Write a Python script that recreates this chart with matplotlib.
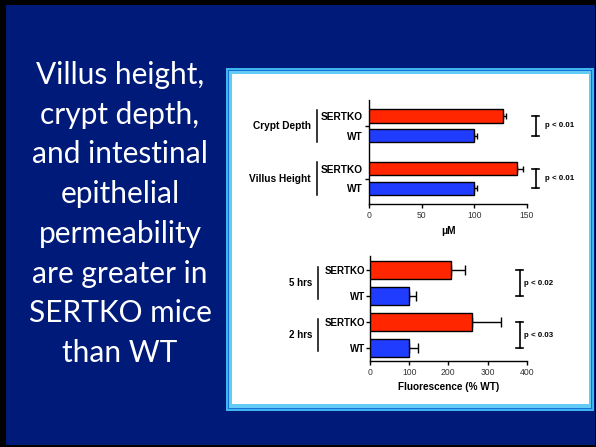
import matplotlib
matplotlib.use("Agg")
import matplotlib.pyplot as plt
import matplotlib.transforms as mtransforms
from matplotlib.patches import Rectangle
import numpy as np

# ---- data ----
top_groups = ["Crypt Depth", "Villus Height"]
top_sertko = [127, 141]
top_sertko_err = [3.5, 5.5]
top_wt = [100, 100]
top_wt_err = [2.5, 3.0]
top_pvals = ["p < 0.01", "p < 0.01"]
top_xticks = [0, 50, 100, 150]

bot_groups = ["5 hrs", "2 hrs"]
bot_sertko = [206, 260]
bot_sertko_err = [36, 74]
bot_wt = [100, 100]
bot_wt_err = [17, 23]
bot_pvals = ["p < 0.02", "p < 0.03"]
bot_xticks = [0, 100, 200, 300, 400]

slide_text = ("Villus height,\ncrypt depth,\nand intestinal\nepithelial\n"
              "permeability\nare greater in\nSERTKO mice\nthan WT")

RED = "#ff2600"
BLUE = "#1f3cff"
BG = "#001a7a"

W, H = 596, 447
fig = plt.figure(figsize=(W / 100, H / 100), dpi=100)
fig.patch.set_facecolor("black")


def px_rect(x0, y0, x1, y1, color):
    fig.patches.append(Rectangle((x0 / W, 1 - y1 / H), (x1 - x0) / W, (y1 - y0) / H,
                                 transform=fig.transFigure, facecolor=color,
                                 edgecolor="none", zorder=-5))


# slide background and picture frame
px_rect(6, 5, 595, 445, BG)
px_rect(226, 68, 594, 411, "#3cb6ee")
px_rect(228, 70, 592, 409, "#1b6fd6")
px_rect(229, 71, 591, 408, "#62cbf6")
px_rect(232, 74, 589, 404, "white")

fig.text(120 / W, 1 - 214 / H, slide_text, color="white", family="Lato",
         fontsize=21.5, ha="center", va="center", linespacing=1.51)


def draw_panel(rect, groups, sertko, s_err, wt, w_err, pvals, xticks, xlabel,
               gap, bar_h, ylim, group_ticks, lab_pad, cap, gl_half, br_x, p_x, fs):
    ax = fig.add_axes(rect)
    ax.set_facecolor("none")
    pos_s = np.arange(len(groups)) * gap
    pos_w = pos_s + 1
    ax.barh(pos_s, sertko, height=bar_h, color=RED, edgecolor="black", linewidth=1, zorder=3)
    ax.barh(pos_w, wt, height=bar_h, color=BLUE, edgecolor="black", linewidth=1, zorder=3)
    ax.errorbar(sertko, pos_s, xerr=[np.zeros(len(sertko)), s_err], fmt="none",
                ecolor="black", elinewidth=1, capsize=cap, capthick=1, zorder=2)
    ax.errorbar(wt, pos_w, xerr=[np.zeros(len(wt)), w_err], fmt="none",
                ecolor="black", elinewidth=1, capsize=cap, capthick=1, zorder=2)
    ax.set_xlim(xticks[0], xticks[-1])
    ax.set_ylim(*ylim)
    ax.set_xticks(xticks)
    ax.set_xticklabels([str(t) for t in xticks], fontsize=6.2, family="Liberation Sans",
                       color="#333333")
    ax.set_xlabel(xlabel, fontsize=7.2, fontweight="bold", family="Liberation Sans", labelpad=4)
    cats = np.ravel(np.column_stack([pos_s, pos_w]))
    ax.set_yticks(cats)
    ax.set_yticklabels(["SERTKO", "WT"] * len(groups), fontsize=fs, fontweight="bold",
                       family="Liberation Sans")
    centers = (pos_s + pos_w) / 2
    if group_ticks:
        ax.tick_params(axis="y", which="major", length=0, pad=lab_pad)
        ax.set_yticks(centers, minor=True)
        ax.tick_params(axis="y", which="minor", length=3, width=1)
    else:
        ax.tick_params(axis="y", which="major", length=3, width=1, pad=lab_pad)
    ax.tick_params(axis="x", length=3, width=1, pad=2)
    for s in ["top", "right"]:
        ax.spines[s].set_visible(False)
    for s in ["left", "bottom"]:
        ax.spines[s].set_linewidth(1)

    tr = mtransforms.blended_transform_factory(ax.transAxes, ax.transData)
    for i, g in enumerate(groups):
        c = centers[i]
        ax.plot([-0.335, -0.335], [c - gl_half, c + gl_half], color="black", lw=1.1,
                transform=tr, clip_on=False)
        ax.text(-0.37, c, g, transform=tr, ha="right", va="center", fontsize=fs,
                fontweight="bold", family="Liberation Sans")
        # significance bracket
        y0, y1 = pos_s[i], pos_w[i]
        ax.plot([br_x, br_x], [y0, y1], color="black", lw=1.2, transform=tr, clip_on=False)
        for yy in (y0, y1):
            ax.plot([br_x - 0.022, br_x + 0.022], [yy, yy], color="black", lw=1.2,
                    transform=tr, clip_on=False)
        ax.text(p_x, (y0 + y1) / 2, pvals[i], transform=tr, ha="left", va="center",
                fontsize=5.7, fontweight="bold", family="Liberation Sans")
    return ax


draw_panel([369.3 / W, 1 - 204 / H, 157.4 / W, 104 / H], top_groups, top_sertko,
           top_sertko_err, top_wt, top_wt_err, top_pvals, top_xticks, "\u03bcM",
           gap=2.68, bar_h=0.68, ylim=(4.47, -0.81), group_ticks=True, lab_pad=4.5,
           cap=2, gl_half=0.82, br_x=1.057, p_x=1.115, fs=7.3)

draw_panel([370 / W, 1 - 361 / H, 156.7 / W, 105 / H], bot_groups, bot_sertko,
           bot_sertko_err, bot_wt, bot_wt_err, bot_pvals, bot_xticks, "Fluorescence (% WT)",
           gap=2.0, bar_h=0.66, ylim=(3.5, -0.54), group_ticks=False, lab_pad=0.5,
           cap=3.3, gl_half=0.6, br_x=0.955, p_x=0.98, fs=7)

fig.savefig("out.png", dpi=100, facecolor=fig.get_facecolor())
